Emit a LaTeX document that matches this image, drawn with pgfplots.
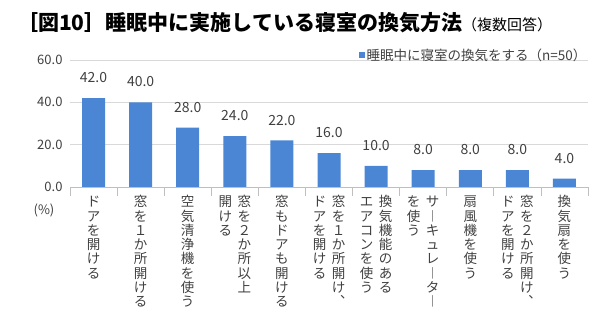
\documentclass[border=0pt]{standalone}
\usepackage{fontspec}
\setmainfont{Noto Sans CJK JP}
\usepackage{pgfplots}
\pgfplotsset{compat=1.18}
\definecolor{barblue}{HTML}{4A86D4}
\definecolor{gridgray}{HTML}{D9D9D9}
\definecolor{axisgray}{HTML}{BFBFBF}
\definecolor{txtgray}{HTML}{404040}
\newcommand\vcell[1]{\hbox to 13.5bp{\hss\vrule height 11.6bp depth 2.7bp width 0pt #1\hss}}
\def\vstack#1{\vtop{\offinterlineskip\vstackA#1\relax}}
\def\vstackA#1{\ifx\relax#1\else\vcell{#1}\expandafter\vstackA\fi}
\newcommand\vtwo[2]{\vstack{#2}\hspace{5.5bp}\vstack{#1}}
\begin{document}
\begin{tikzpicture}
\begin{axis}[
  name=ax,
  at={(0,0)}, anchor=south west,
  scale only axis,
  width=518bp, height=127bp,
  xmin=-0.5, xmax=10.5,
  ymin=0, ymax=60,
  ytick={0,20,40,60},
  xtick={0,...,10},
  minor xtick={-0.5,0.5,...,10.5},
  major tick length=0pt,
  minor tick length=9bp,
  tick align=center,
  ymajorgrids,
  grid style={draw=gridgray, line width=0.8pt},
  axis x line*=bottom, axis y line*=left,
  axis line style={-, draw=axisgray, line width=0.8pt},
  y axis line style={draw=none},
  ytick style={draw=none},
  xtick style={draw=axisgray, line width=0.8pt},
  minor x tick style={draw=axisgray, line width=0.8pt},
  /pgf/number format/assume math mode=true,
  yticklabel style={/pgf/number format/.cd, fixed, fixed zerofill, precision=1, /tikz/.cd,
    font=\fontsize{13bp}{15bp}\selectfont, text=txtgray, xshift=-4bp},
  xticklabel style={anchor=north, inner sep=0pt, yshift=-8bp,
    font=\fontsize{13.5bp}{14.3bp}\selectfont, text=txtgray},
  xticklabels={{\vstack{ドアを開ける}},{\vstack{窓を１か所開ける}},{\vstack{空気清浄機を使う}},{\vtwo{窓を２か所以上}{開ける}},{\vstack{窓もドアも開ける}},{\vtwo{窓を１か所開け︑}{ドアを開ける}},{\vtwo{換気機能のある}{エアコンを使う}},{\vtwo{サ︱キュレ︱タ︱}{を使う}},{\vstack{扇風機を使う}},{\vtwo{窓を２か所開け︑}{ドアを開ける}},{\vstack{換気扇を使う}}},
  ybar, bar width=23bp,
  nodes near coords,
  nodes near coords style={/pgf/number format/.cd, fixed, fixed zerofill, precision=1, /tikz/.cd,
    anchor=south, inner sep=0pt, yshift=15bp, font=\fontsize{14bp}{16bp}\selectfont, text=txtgray},
  legend style={at={(1,1)}, anchor=east, yshift=5bp, draw=none, fill=none, inner sep=0pt,
    font=\fontsize{13.5bp}{15bp}\selectfont, text=txtgray, nodes={inner sep=1.5bp}},
  legend cell align=left,
]
\addplot[fill=barblue, draw=none,
  legend image code/.code={\fill[barblue] (0bp,-3.2bp) rectangle (6.5bp,3.2bp);}]
  coordinates {(0,42.0) (1,40.0) (2,28.0) (3,24.0) (4,22.0) (5,16.0) (6,10.0) (7,8.0) (8,8.0) (9,8.0) (10,4.0)};
\addlegendentry{睡眠中に寝室の換気をする（n=50）}
\end{axis}
\node[anchor=base west, inner sep=0pt] at ([shift={(-53bp,156bp)}]ax.south west)
  {{\fontsize{21bp}{25bp}\selectfont\bfseries ［図10］睡眠中に実施している寝室の換気方法}{\fontsize{15bp}{18bp}\selectfont（複数回答）}};
\node[inner sep=0pt, text=txtgray, font=\fontsize{13bp}{15bp}\selectfont] at ([shift={(-26bp,-23bp)}]ax.south west) {(\%)};
\path[use as bounding box] ([shift={(-70bp,-138bp)}]ax.south west) rectangle ([shift={(28bp,60bp)}]ax.north east);
\end{tikzpicture}
\end{document}
